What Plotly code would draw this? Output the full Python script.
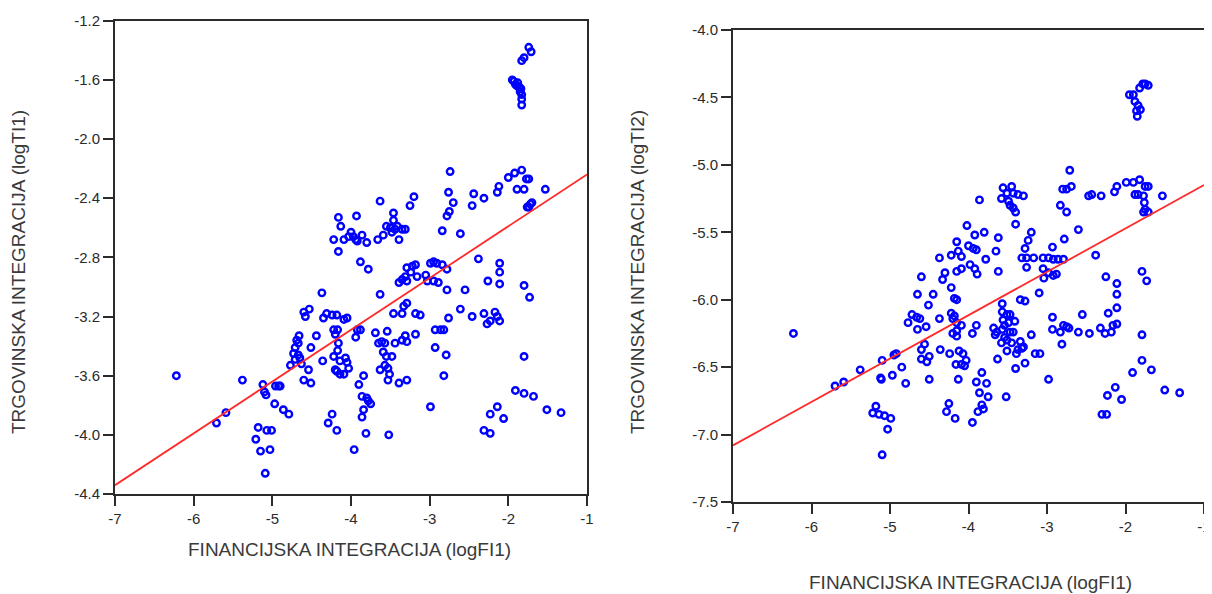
import plotly.graph_objects as go

# --- data ----------------------------------------------------------------
# left panel: logFI1 vs logTI1
fi_left = [
    -1.74, -1.71, -1.80, -1.83,
    -1.95, -1.93, -1.91, -1.89, -1.86, -1.84, -1.85, -1.83, -1.83, -1.83, -1.88,
    -2.74, -2.00, -1.92, -1.83, -1.74, -1.77, -2.12, -2.14, -1.89, -1.80, -1.53,
    -1.76, -1.72, -1.70, -1.74, -2.76, -2.44, -2.31, -2.46, -2.70, -2.75, -2.78,
    -2.84, -2.61, -3.20, -3.25, -3.63, -3.46, -3.93, -4.16, -4.13,
    -4.22, -4.16, -4.09, -4.03, -4.00, -3.97, -3.94, -3.92, -3.86, -3.80, -3.66,
    -3.59, -3.55, -3.50, -3.46, -3.44, -3.39, -3.35, -3.31, -3.48, -3.41, -3.88,
    -3.78, -3.63,
    -3.29, -3.22, -3.18, -3.24, -3.31, -3.35, -3.39, -3.29, -3.16, -3.05, -3.03,
    -2.99, -2.95, -2.91, -2.84, -2.78, -2.95, -2.89, -2.78, -2.38, -2.11, -2.11,
    -2.11, -2.26, -2.55, -2.61, -2.46, -2.31, -2.27, -2.23, -2.17, -2.14, -2.11,
    -1.80, -1.73, -1.80,
    -3.46, -3.35, -3.29, -3.33, -3.18, -3.12, -2.93, -2.86, -2.82, -2.93, -2.79,
    -2.82, -2.99, -2.76,
    -3.69, -3.65, -3.61, -3.54, -3.57, -3.44, -3.35, -3.31, -3.29, -3.18,
    -3.59, -3.55, -3.48, -3.57, -3.53, -3.63, -3.51, -3.53, -3.39, -3.29,
    -4.37, -4.35, -4.31, -4.24, -4.18, -4.09, -4.05,
    -4.22, -4.17, -4.20, -4.16, -4.17, -4.22, -4.14, -4.07, -4.05, -4.03, -4.18,
    -4.14, -4.09, -4.20,
    -3.92, -3.88, -3.94, -3.84, -3.90,
    -3.86, -3.80, -3.78, -3.75, -3.84, -3.86, -3.81, -3.96, -4.24, -4.29, -4.18,
    -3.52,
    -4.60, -4.58, -4.53, -4.66, -4.69, -4.67, -4.71, -4.73, -4.67, -4.71, -4.65,
    -4.77, -4.63, -4.60, -4.54, -4.51, -4.51, -4.44, -4.36,
    -6.22, -5.38, -5.59, -5.71, -5.12, -5.10, -5.08, -4.96, -4.92, -4.90, -4.97,
    -4.86, -4.79, -5.18, -5.07, -5.01, -5.21, -5.15, -5.03, -5.09,
    -1.91, -1.80, -1.68, -1.51, -1.33, -2.14, -2.23, -2.06, -2.31, -2.23,
]
ti_left = [
    -1.38, -1.41, -1.45, -1.47,
    -1.60, -1.61, -1.63, -1.64, -1.65, -1.66, -1.68, -1.70, -1.73, -1.77, -1.62,
    -2.22, -2.26, -2.23, -2.21, -2.27, -2.27, -2.32, -2.36, -2.34, -2.34, -2.34,
    -2.46, -2.44, -2.43, -2.46, -2.36, -2.37, -2.40, -2.45, -2.43, -2.49, -2.52,
    -2.62, -2.64, -2.39, -2.45, -2.42, -2.50, -2.52, -2.53, -2.59,
    -2.68, -2.76, -2.68, -2.66, -2.63, -2.66, -2.68, -2.69, -2.65, -2.70, -2.68,
    -2.65, -2.59, -2.60, -2.55, -2.61, -2.68, -2.61, -2.61, -2.63, -2.59, -2.83,
    -2.88, -3.05,
    -2.87, -2.86, -2.85, -2.90, -2.93, -2.95, -2.97, -2.96, -2.93, -2.92, -2.96,
    -2.84, -2.83, -2.84, -2.85, -2.88, -2.96, -2.97, -3.02, -2.81, -2.84, -2.90,
    -2.98, -2.96, -3.02, -3.15, -3.20, -3.18, -3.25, -3.23, -3.17, -3.20, -3.23,
    -2.99, -3.07, -3.47,
    -3.18, -3.18, -3.11, -3.13, -3.18, -3.19, -3.29, -3.29, -3.29, -3.41, -3.46,
    -3.60, -3.81, -3.21,
    -3.31, -3.38, -3.37, -3.30, -3.38, -3.38, -3.36, -3.33, -3.37, -3.32,
    -3.44, -3.47, -3.47, -3.53, -3.55, -3.56, -3.59, -3.63, -3.65, -3.63,
    -3.04, -3.21, -3.18, -3.19, -3.19, -3.22, -3.21,
    -3.29, -3.29, -3.32, -3.38, -3.43, -3.47, -3.50, -3.48, -3.51, -3.55, -3.57,
    -3.59, -3.59, -3.56,
    -3.29, -3.29, -3.34, -3.60, -3.66,
    -3.74, -3.75, -3.77, -3.79, -3.83, -3.88, -3.99, -4.10, -3.86, -3.92, -3.97,
    -4.00,
    -3.17, -3.20, -3.15, -3.33, -3.36, -3.38, -3.41, -3.45, -3.46, -3.49, -3.48,
    -3.53, -3.52, -3.63, -3.56, -3.65, -3.41, -3.33, -3.50,
    -3.60, -3.63, -3.85, -3.92, -3.66, -3.71, -3.73, -3.67, -3.67, -3.67, -3.79,
    -3.83, -3.86, -3.95, -3.97, -3.97, -4.03, -4.11, -4.10, -4.26,
    -3.70, -3.72, -3.74, -3.83, -3.85, -3.81, -3.86, -3.89, -3.97, -3.99,
]

# right panel: logFI1 vs logTI2
fi_right = [
    -1.75, -1.71, -1.78, -1.82, -1.90, -1.95, -1.88, -1.84, -1.81, -1.86, -1.85,
    -2.71, -2.80, -2.75, -2.69, -2.83, -2.75, -2.47, -2.43, -2.31, -2.14, -2.11,
    -1.99, -1.90, -1.82, -1.75, -1.71, -1.88, -1.84, -1.77, -1.76, -1.75, -1.71,
    -1.77, -1.53, -2.60, -2.38, -2.78, -2.93,
    -3.20, -3.24, -3.28, -3.32, -3.26, -3.17, -3.05, -2.98, -2.92, -2.86, -2.79,
    -3.26, -3.05, -2.98, -2.92, -2.88, -3.04, -3.10, -3.34, -3.28,
    -3.62, -3.65, -3.62, -3.78, -3.86,
    -3.56, -3.45, -3.51, -3.43, -3.37, -3.30, -3.58, -3.49, -3.47, -3.43, -3.40,
    -3.40,
    -4.02, -3.92, -3.80, -4.00, -3.94, -3.90,
    -4.15, -4.22, -4.13, -4.09, -4.37, -4.30, -4.33, -4.15, -4.09, -3.98, -3.92,
    -3.89, -4.60, -4.65, -4.45, -4.51, -4.22, -4.18, -4.15, -3.57,
    -4.77, -4.72, -4.66, -4.62, -4.65, -4.54, -4.37,
    -4.22, -4.18, -4.20, -4.15, -4.09, -4.20, -4.15, -4.15, -3.90, -3.95,
    -3.57, -3.51, -3.47, -3.56, -3.49, -3.41, -3.54, -3.57, -3.47, -3.43, -3.68,
    -3.64, -3.66, -3.54, -3.51, -3.45, -3.58, -3.51,
    -3.34, -3.30, -3.37, -3.39, -3.32, -3.20, -3.15, -3.09, -3.28, -3.40, -3.63,
    -2.93, -2.93, -2.83, -2.79, -2.75, -2.72, -2.81, -2.55, -2.60, -2.46,
    -2.32, -2.26, -2.18, -2.16, -2.11, -2.22, -2.11, -2.11, -2.11, -2.25,
    -1.79, -1.73, -1.79, -1.79, -1.91, -1.67, -1.50, -1.31, -2.13, -2.23, -2.05,
    -2.30, -2.24, -2.98, -3.52,
    -3.83, -3.90, -3.77, -3.86, -3.75, -3.83, -3.81, -3.88, -3.95, -4.13, -4.25,
    -4.28, -4.17,
    -4.36, -4.24, -4.12, -4.07, -4.03, -4.09, -4.16, -4.05,
    -4.60, -4.60, -4.53, -4.50, -4.50, -4.56,
    -4.95, -4.92, -4.85, -4.97, -4.80, -5.10, -5.12, -5.11, -5.38, -5.59, -5.70,
    -6.23, -5.18, -5.22, -5.14, -5.07, -4.99, -5.03, -5.10,
]
ti_right = [
    -4.40, -4.41, -4.40, -4.43, -4.48, -4.48, -4.53, -4.56, -4.59, -4.60, -4.64,
    -5.04, -5.18, -5.18, -5.16, -5.30, -5.35, -5.23, -5.22, -5.23, -5.20, -5.16,
    -5.13, -5.13, -5.11, -5.16, -5.16, -5.22, -5.22, -5.23, -5.28, -5.33, -5.35,
    -5.35, -5.23, -5.48, -5.67, -5.55, -5.61,
    -5.50, -5.56, -5.62, -5.69, -5.69, -5.69, -5.69, -5.69, -5.70, -5.70, -5.70,
    -5.76, -5.77, -5.80, -5.82, -5.81, -5.84, -5.95, -6.00, -6.01,
    -5.54, -5.64, -5.79, -5.70, -5.26,
    -5.17, -5.16, -5.21, -5.21, -5.22, -5.23, -5.25, -5.27, -5.30, -5.32, -5.35,
    -5.44,
    -5.45, -5.52, -5.50, -5.60, -5.62, -5.63,
    -5.57, -5.67, -5.64, -5.68, -5.69, -5.80, -5.85, -5.79, -5.77, -5.74, -5.77,
    -5.81, -5.83, -5.96, -5.96, -6.04, -5.91, -5.99, -6.00, -6.03,
    -6.17, -6.11, -6.13, -6.14, -6.22, -6.20, -6.14,
    -6.10, -6.12, -6.14, -6.17, -6.19, -6.25, -6.27, -6.23, -6.19, -6.25,
    -6.09, -6.11, -6.11, -6.15, -6.17, -6.16, -6.19, -6.22, -6.24, -6.24, -6.21,
    -6.24, -6.26, -6.28, -6.30, -6.32, -6.32, -6.38,
    -6.31, -6.35, -6.37, -6.40, -6.36, -6.26, -6.40, -6.40, -6.47, -6.51, -6.44,
    -6.13, -6.22, -6.24, -6.19, -6.20, -6.21, -6.33, -6.11, -6.24, -6.25,
    -6.21, -6.25, -6.24, -6.19, -6.18, -6.10, -6.06, -5.96, -5.88, -5.83,
    -5.79, -5.86, -6.26, -6.45, -6.54, -6.52, -6.67, -6.69, -6.65, -6.71, -6.74,
    -6.85, -6.85, -6.59, -6.72,
    -6.54, -6.61, -6.62, -6.69, -6.72, -6.78, -6.81, -6.83, -6.91, -6.59, -6.77,
    -6.83, -6.88,
    -6.37, -6.40, -6.38, -6.40, -6.45, -6.48, -6.48, -6.49,
    -6.37, -6.44, -6.46, -6.42, -6.59, -6.33,
    -6.41, -6.40, -6.50, -6.56, -6.62, -6.45, -6.58, -6.59, -6.52, -6.61, -6.64,
    -6.25, -6.79, -6.84, -6.85, -6.86, -6.88, -6.96, -7.15,
]

# fitted lines (end points read at x = -7 and x = -1)
fit_x = [-7, -1]
fit_left = [-4.34, -2.24]
fit_right = [-7.08, -5.15]

# axis ticks
x_ticks = [-7, -6, -5, -4, -3, -2, -1]
x_labels = ["-7", "-6", "-5", "-4", "-3", "-2", "-1"]
y_left_ticks = [-4.4, -4.0, -3.6, -3.2, -2.8, -2.4, -2.0, -1.6, -1.2]
y_left_labels = ["-4.4", "-4.0", "-3.6", "-3.2", "-2.8", "-2.4", "-2.0", "-1.6", "-1.2"]
y_right_ticks = [-7.5, -7.0, -6.5, -6.0, -5.5, -5.0, -4.5, -4.0]
y_right_labels = ["-7.5", "-7.0", "-6.5", "-6.0", "-5.5", "-5.0", "-4.5", "-4.0"]

x_title = "FINANCIJSKA INTEGRACIJA (logFI1)"
y_left_title = "TRGOVINSKA INTEGRACIJA (logTI1)"
y_right_title = "TRGOVINSKA INTEGRACIJA (logTI2)"

FONT = "Liberation Sans, Arial, sans-serif"
INK = "#2b2b2b"
BLUE = "#0000ff"
RED = "#ff2a2a"

W, H = 1212, 594
OFF = 8  # the page body margin shifts the figure by this much


def px(x):
    return (x - OFF) / W


def py(y):
    return 1 - (y - OFF) / H


fig = go.Figure()

marker = dict(symbol="circle-open", size=6.5, color=BLUE, line=dict(width=2.4, color=BLUE))

fig.add_trace(go.Scatter(x=fi_left, y=ti_left, mode="markers", marker=marker,
                         xaxis="x", yaxis="y", showlegend=False))
fig.add_trace(go.Scatter(x=fit_x, y=fit_left, mode="lines",
                         line=dict(color=RED, width=1.8),
                         xaxis="x", yaxis="y", showlegend=False))
fig.add_trace(go.Scatter(x=fi_right, y=ti_right, mode="markers", marker=marker,
                         xaxis="x2", yaxis="y2", showlegend=False))
fig.add_trace(go.Scatter(x=fit_x, y=fit_right, mode="lines",
                         line=dict(color=RED, width=1.8),
                         xaxis="x2", yaxis="y2", showlegend=False))

axis_style = dict(
    showgrid=False, zeroline=False, automargin=False,
    showline=True, linecolor=INK, linewidth=2, mirror=True,
    ticks="outside", ticklen=10, tickwidth=2, tickcolor=INK,
    tickfont=dict(family=FONT, size=15, color=INK),
)

fig.update_layout(
    width=W, height=H,
    margin=dict(l=0, r=0, t=0, b=0, autoexpand=False),
    paper_bgcolor="white", plot_bgcolor="white",
    xaxis=dict(domain=[px(115), px(587)], range=[-7, -1], anchor="y",
               tickvals=x_ticks, ticktext=x_labels, **axis_style),
    yaxis=dict(domain=[py(494), py(20.7)], range=[-4.4, -1.2], anchor="x",
               tickvals=y_left_ticks, ticktext=y_left_labels, **axis_style),
    xaxis2=dict(domain=[px(733), px(1204)], range=[-7, -1], anchor="y2",
                tickvals=x_ticks, ticktext=x_labels, **axis_style),
    yaxis2=dict(domain=[py(502), py(30)], range=[-7.5, -4.0], anchor="x2",
                tickvals=y_right_ticks, ticktext=y_right_labels, **axis_style),
)

title_font = dict(family=FONT, size=19, color="#3a3a3a")
fig.add_annotation(text=x_title, xref="paper", yref="paper", x=px(350), y=py(549),
                   showarrow=False, font=title_font, xanchor="center", yanchor="middle")
fig.add_annotation(text=x_title, xref="paper", yref="paper", x=px(970), y=py(582),
                   showarrow=False, font=title_font, xanchor="center", yanchor="middle")
fig.add_annotation(text=y_left_title, xref="paper", yref="paper", x=px(18), y=py(272),
                   showarrow=False, font=title_font, textangle=-90,
                   xanchor="center", yanchor="middle")
fig.add_annotation(text=y_right_title, xref="paper", yref="paper", x=px(637), y=py(272),
                   showarrow=False, font=title_font, textangle=-90,
                   xanchor="center", yanchor="middle")

fig.write_html("out.html")
